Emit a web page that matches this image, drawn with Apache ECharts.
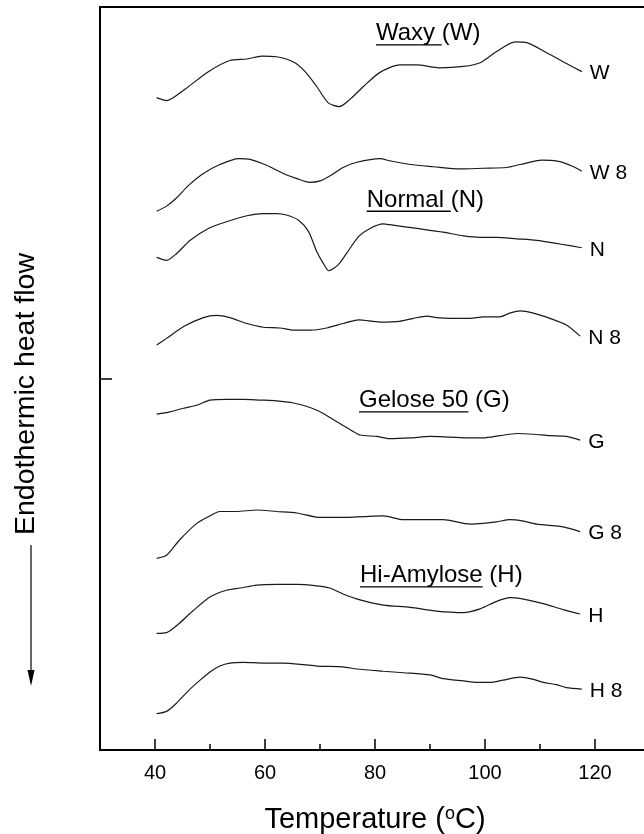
<!DOCTYPE html>
<html><head><meta charset="utf-8">
<script src="https://cdn.jsdelivr.net/npm/echarts@6/dist/echarts.min.js"></script>
<style>html,body{margin:0;padding:0;background:#fff}#c{width:644px;height:834px}</style>
</head><body><div id="c"></div>
<script>
// ---- data (temperature in °C, heat flow in arbitrary offset units) ----
const wT = [40.3,42.1,45.2,49.7,53.6,56.7,59.4,62.1,65.2,67.3,69.4,71.5,73.5,75.5,77.9,80.9,84.5,87.6,91.8,96.1,99.1,102.1,105.5,107.6,111.8,114.8,117.6];
const wV = [87.8,87.4,88.8,91.3,92.8,93.0,93.4,93.3,92.6,91.3,89.3,87.1,86.6,87.6,89.3,91.2,92.2,92.2,91.8,92.0,92.5,94.0,95.3,95.2,93.6,92.4,91.3];
const w8T = [40.3,42.1,43.9,46.1,48.8,51.8,55.2,57.3,60.3,63.3,65.8,68.1,70.0,72.1,74.2,76.7,80.9,82.7,86.4,90.6,95.5,99.7,103.9,106.4,110.3,113.6,115.8,117.6];
const w8V = [72.5,73.2,74.3,76.0,77.6,78.8,79.6,79.5,78.7,77.6,76.9,76.4,76.6,77.4,78.4,79.1,79.6,79.3,78.8,78.5,78.2,78.3,78.4,78.8,79.4,79.2,78.6,77.9];
const nT = [40.3,42.1,43.9,46.4,49.7,53.0,56.7,59.7,62.1,63.9,66.1,67.9,69.4,70.6,71.6,73.3,74.8,77.0,79.1,81.5,82.7,87.6,92.4,96.1,99.7,102.1,105.8,109.4,113.6,117.6];
const nV = [66.3,65.9,66.8,68.6,70.2,71.1,71.9,72.2,72.2,72.0,71.3,69.8,67.1,65.5,64.5,65.3,66.8,69.1,70.2,70.8,70.7,70.2,69.7,69.2,69.0,69.0,68.8,68.6,68.1,67.6];
const n8T = [40.3,42.1,45.2,48.8,51.2,53.6,56.7,59.7,62.7,65.2,68.2,71.2,74.2,77.0,80.9,84.5,87.0,89.4,91.2,93.6,97.3,99.7,102.7,104.5,106.4,108.8,111.8,114.8,117.3];
const n8V = [54.5,55.4,57.0,58.2,58.5,58.2,57.4,56.9,56.8,56.5,56.5,56.8,57.4,57.9,57.6,57.7,58.1,58.4,58.2,58.1,58.1,58.3,58.3,58.8,59.1,58.8,58.1,57.2,55.7];
const gT = [40.3,42.7,45.2,47.6,50.0,53.0,56.1,59.1,62.1,65.2,68.2,70.6,73.0,75.5,77.3,80.3,82.7,86.4,90.0,93.6,97.3,99.7,102.7,105.8,108.8,111.8,114.8,117.3];
const gV = [45.2,45.5,46.0,46.4,47.1,47.2,47.2,47.1,47.0,46.7,46.1,45.3,44.2,43.1,42.4,42.2,41.9,42.0,42.2,42.1,42.0,42.0,42.3,42.6,42.5,42.3,42.2,41.7];
const g8T = [40.3,42.1,44.5,47.6,49.7,51.8,54.8,58.5,62.1,65.8,70.0,74.2,77.9,81.5,85.2,87.6,92.4,97.3,99.7,102.1,104.5,107.0,109.4,113.6,115.5,117.3];
const g8V = [25.8,26.2,28.3,30.5,31.4,32.1,32.1,32.3,32.1,31.9,31.3,31.3,31.4,31.5,31.0,31.0,31.0,30.4,30.5,30.7,31.0,30.8,30.4,30.1,29.8,29.4];
const hT = [40.3,42.1,44.5,47.0,50.0,53.0,55.5,58.5,62.1,65.8,69.4,71.8,74.2,77.3,81.5,86.4,91.2,96.1,99.1,102.1,104.5,107.0,110.6,114.2,117.3];
const hV = [15.7,15.8,17.1,18.8,20.6,21.5,21.8,22.2,22.3,22.3,22.1,21.8,21.0,20.2,19.5,19.2,18.7,18.5,19.0,20.0,20.5,20.3,19.7,18.9,18.3];
const h8T = [40.3,42.1,43.9,46.1,48.2,50.0,51.8,53.6,56.1,59.7,63.3,67.0,69.4,74.2,76.7,81.5,85.2,90.0,92.4,96.1,98.5,100.9,103.3,106.4,108.8,110.6,113.0,114.8,117.6];
const h8V = [4.9,5.2,6.3,8.0,9.4,10.5,11.3,11.7,11.8,11.7,11.7,11.5,11.3,11.2,10.9,10.6,10.4,10.1,9.6,9.3,9.1,9.1,9.4,9.8,9.5,9.1,8.8,8.4,8.2];

const curveNames = ['W','W 8','N','N 8','G','G 8','H','H 8'];
const sampleNames = ['Waxy','Normal','Gelose 50','Hi-Amylose'];
const sampleCodes = ['(W)','(N)','(G)','(H)'];
const majorTicks = [40,60,80,100,120];
const minorTicks = [50,70,90,110];
const xTitleMain = 'Temperature (';
const xTitleSup = 'o';
const xTitleEnd = 'C)';
const yTitle = 'Endothermic heat flow';

// ---- layout ----
const FONT = '"Liberation Sans", Arial, Helvetica, sans-serif';
const titleLayout = [
  {x: 376, base: 42, ulSpace: true},
  {x: 366.7, base: 208.3, ulSpace: true},
  {x: 359, base: 409, ulSpace: false},
  {x: 360, base: 584, ulSpace: false}
];
const TITLE_SIZE = 24;

const curveT = [wT, w8T, nT, n8T, gT, g8T, hT, h8T];
const curveV = [wV, w8V, nV, n8V, gV, g8V, hV, h8V];

const mctx = document.createElement('canvas').getContext('2d');
mctx.font = TITLE_SIZE + 'px ' + FONT;

const series = curveNames.map((nm, i) => ({
  type: 'line',
  name: nm,
  xAxisIndex: 0,
  data: curveT[i].map((t, j) => [t, curveV[i][j]]),
  showSymbol: false,
  symbol: 'none',
  smooth: 0.25,
  clip: false,
  lineStyle: {color: '#1a1a1a', width: 1.2},
  endLabel: {
    show: true, formatter: () => nm, color: '#000',
    fontSize: 21, fontFamily: FONT, distance: 8, offset: [0, 2]
  },
  emphasis: {disabled: true},
  silent: true
}));

const graphics = [];
sampleNames.forEach((nm, i) => {
  const L = titleLayout[i];
  graphics.push({
    type: 'text', x: L.x, y: L.base - 0.3465 * TITLE_SIZE, silent: true,
    style: {text: nm + ' ' + sampleCodes[i], font: TITLE_SIZE + 'px ' + FONT,
            fill: '#000', align: 'left', verticalAlign: 'middle'}
  });
  const w = mctx.measureText(L.ulSpace ? nm + ' ' : nm).width;
  graphics.push({
    type: 'rect', silent: true,
    shape: {x: L.x, y: L.base + 2.2, width: w, height: 1.4},
    style: {fill: '#000'}
  });
});
graphics.push({
  type: 'text', x: 26, y: 394, rotation: Math.PI / 2, silent: true,
  style: {text: yTitle, font: '28.5px ' + FONT, fill: '#000', align: 'center', verticalAlign: 'middle'}
});
graphics.push({
  type: 'line', silent: true,
  shape: {x1: 31, y1: 545, x2: 31, y2: 674},
  style: {stroke: '#000', lineWidth: 1.2}
});
graphics.push({
  type: 'polygon', silent: true,
  shape: {points: [[27.5, 670], [34.5, 670], [31, 686]]},
  style: {fill: '#000'}
});

const chart = echarts.init(document.getElementById('c'), null, {renderer: 'canvas'});
chart.setOption({
  animation: false,
  backgroundColor: '#fff',
  grid: {left: 100, top: 7, width: 550, height: 743, show: true,
         outerBoundsMode: 'none', containLabel: false,
         borderColor: '#000', borderWidth: 2, backgroundColor: 'transparent'},
  xAxis: [{
    type: 'value', min: 30, max: 130, interval: 10, position: 'bottom',
    axisLine: {show: true, onZero: false, lineStyle: {color: '#000', width: 2}},
    axisTick: {show: true, inside: true, length: 11, customValues: majorTicks,
               lineStyle: {color: '#000', width: 1.5}},
    axisLabel: {show: true, customValues: majorTicks, margin: 13, fontSize: 20,
                color: '#000', fontFamily: FONT},
    splitLine: {show: false},
    name: '{t|' + xTitleMain + '}{s|' + xTitleSup + '}{t|' + xTitleEnd + '}',
    nameLocation: 'middle', nameGap: 55,
    nameTextStyle: {
      rich: {
        t: {fontSize: 29, fontFamily: FONT, color: '#000'},
        s: {fontSize: 18, fontFamily: FONT, color: '#000', verticalAlign: 'top'}
      }
    }
  }, {
    type: 'value', min: 30, max: 130, interval: 10, position: 'bottom',
    axisLine: {show: false},
    axisTick: {show: true, inside: true, length: 6, customValues: minorTicks,
               lineStyle: {color: '#000', width: 1.5}},
    axisLabel: {show: false},
    splitLine: {show: false}
  }],
  yAxis: {
    type: 'value', min: 0, max: 100, interval: 50,
    axisLine: {show: true, onZero: false, lineStyle: {color: '#000', width: 2}},
    axisTick: {show: true, inside: true, length: 12, lineStyle: {color: '#000', width: 1.5}},
    axisLabel: {show: false},
    splitLine: {show: false}
  },
  series: series,
  graphic: graphics
});
</script>
</body></html>
